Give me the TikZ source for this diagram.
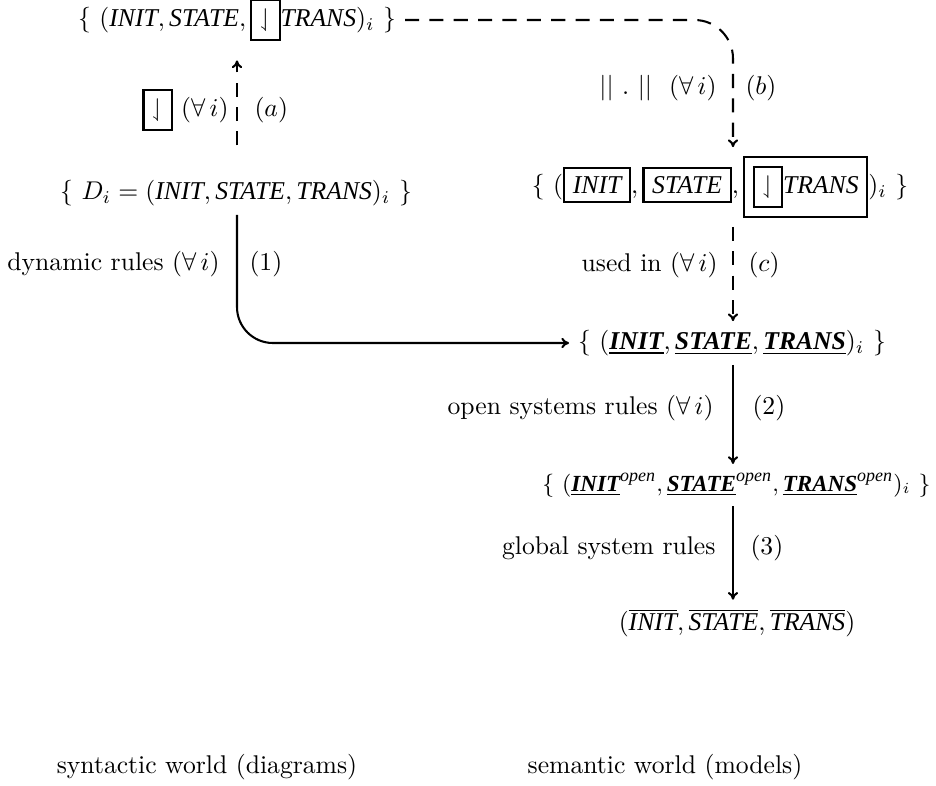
\documentclass[tikz,border=0pt]{standalone}
\usepackage{amssymb}
\usepackage{fontspec}
\newfontfamily\tms{Liberation Serif}
\usetikzlibrary{arrows.meta}
\setlength{\fboxrule}{0.8pt}
\newcommand{\Iw}[1]{\mbox{\tms\itshape #1}}
\newcommand{\Bw}[1]{\underline{\mbox{\tms\itshape\bfseries #1}}}
\newcommand{\Ow}[1]{\overline{\mbox{\tms\itshape #1}}}
\newcommand{\Sup}{^{\mbox{\tms\itshape\scriptsize open}}}
\newcommand{\Rs}{\fbox{$\downharpoonleft$}}
\begin{document}
\begin{tikzpicture}[x=0.39pt,y=-0.39pt,
  lbl/.style={inner sep=0pt},
  conn/.style={line width=0.8pt},
  dsh/.style={conn,dash pattern=on 5.5pt off 4pt},
  tip/.style={-{To[length=3pt,width=4pt]}}]
\useasboundingbox (0,0) rectangle (936,785);
\coordinate (acol) at (237,0);
\coordinate (bcol) at (733,0);
\node (top) at (237,20) {$\{\ (\Iw{INIT},\Iw{STATE},\Rs\Iw{TRANS})_i\ \}$};
\node (dl) at (236,193) {$\{\ D_i=(\Iw{INIT},\Iw{STATE},\Iw{TRANS})_i\ \}$};
\node (rb) at (720,187) {$\{\ (\fbox{\Iw{INIT}},\fbox{\Iw{STATE}},\fbox{\Rs\Iw{TRANS}})_i\ \}$};
\node (u) at (732,343) {$\{\ (\Bw{INIT},\Bw{STATE},\Bw{TRANS})_i\ \}$};
\node[anchor=east,inner xsep=0pt,font=\small] (op) at (931,485) {$\{\ (\Bw{INIT}\Sup,\Bw{STATE}\Sup,\Bw{TRANS}\Sup)_i\ \}$};
\node (ov) at (737,623) {$(\Ow{INIT},\Ow{STATE},\Ow{TRANS})$};

\node[lbl,anchor=east] (la) at (229,110) {\Rs\ $(\forall\,i)$};
\node[lbl,anchor=west] (ra) at (254,110) {$(a)$};
\node[lbl,anchor=east] (lb) at (717,88) {$||\ .\ ||\ \ (\forall\,i)$};
\node[lbl,anchor=west] (rbl) at (745,88) {$(b)$};
\node[lbl,anchor=east] (l1) at (220,264) {dynamic rules $(\forall\,i)$};
\node[lbl,anchor=west] (r1) at (249,264) {(1)};
\node[lbl,anchor=east] (lc) at (718,265) {used in $(\forall\,i)$};
\node[lbl,anchor=west] (rc) at (748,265) {$(c)$};
\node[lbl,anchor=east] (l2) at (714,408) {open systems rules $(\forall\,i)$};
\node[lbl,anchor=west] (r2) at (752,408) {(2)};
\node[lbl,anchor=east] (l3) at (716,548) {global system rules};
\node[lbl,anchor=west] (r3) at (750,548) {(3)};
\node (syn) at (207,767) {syntactic world (diagrams)};
\node (sem) at (665,767) {semantic world (models)};

\draw[dsh,tip,shorten <=10pt,shorten >=4pt] (dl.north -| acol) -- (top.south -| acol);
\draw[dsh,tip,rounded corners=15pt] (top.east) -| (rb.north -| bcol);
\draw[conn,tip,rounded corners=14pt] (dl.south -| acol) |- (u.west);
\draw[dsh,tip] (rb.south -| bcol) -- (u.north -| bcol);
\draw[conn,tip] (u.south -| bcol) -- (op.north -| bcol);
\draw[conn,tip] (op.south -| bcol) -- (ov.north -| bcol);
\end{tikzpicture}
\end{document}
